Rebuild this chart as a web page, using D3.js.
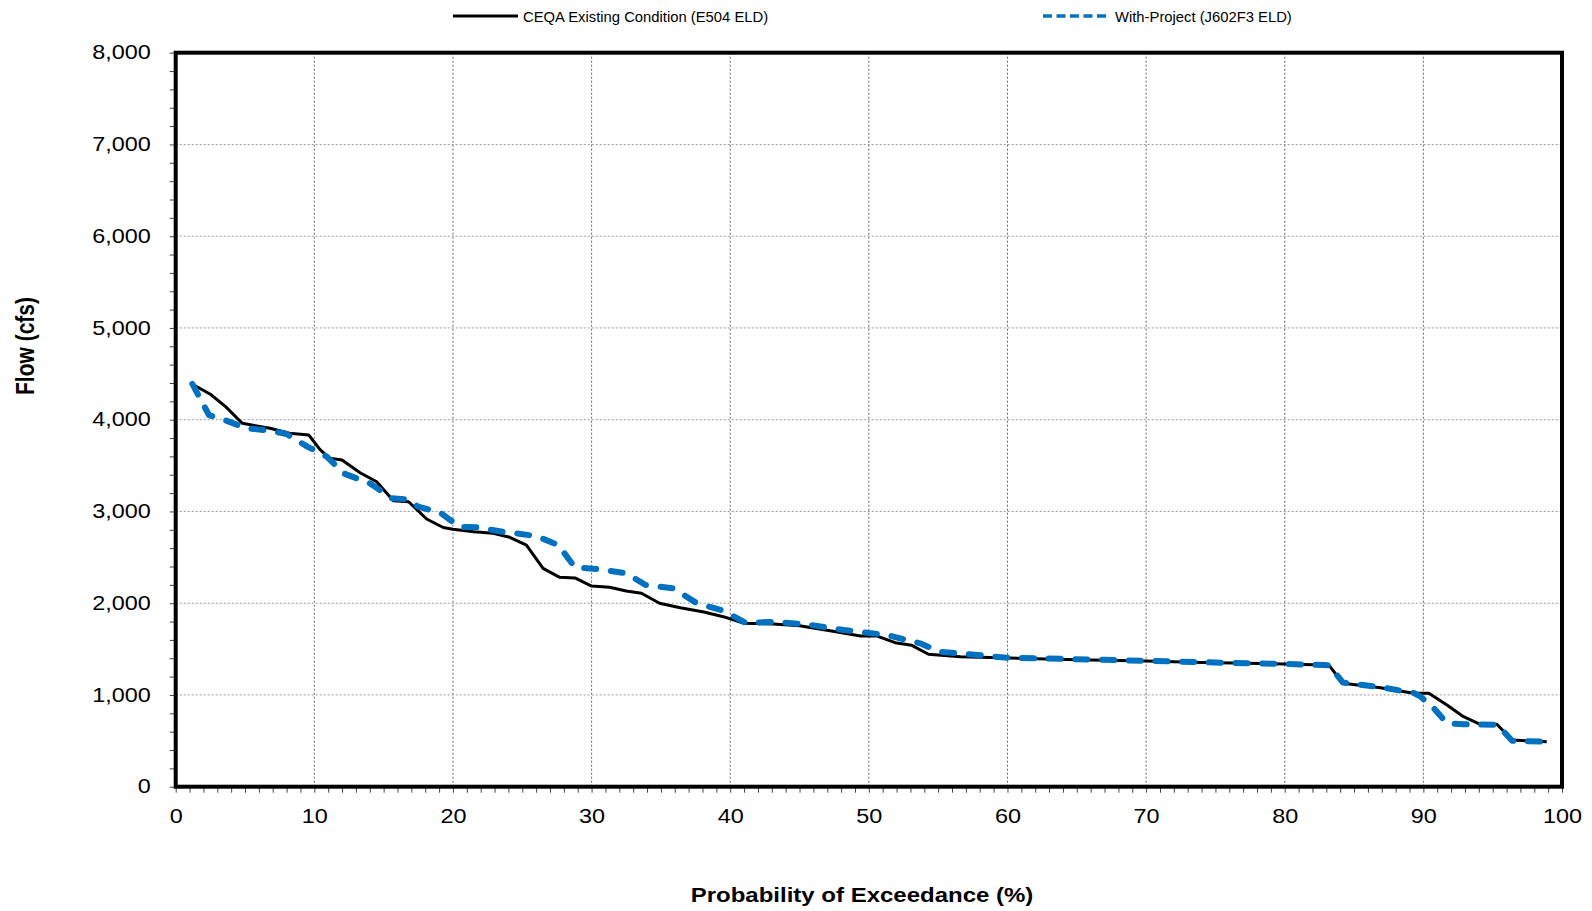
<!DOCTYPE html>
<html>
<head>
<meta charset="utf-8">
<script src="https://cdn.jsdelivr.net/npm/d3@7"></script>
<style>
  html, body { margin: 0; padding: 0; background: #fff; }
  svg { display: block; font-family: "Liberation Sans", Arial, sans-serif; }
</style>
</head>
<body>
<svg id="chart" width="1592" height="911"></svg>
<script>
// Exceedance curves: probability (%) and flow (cfs)
const existingPct = [1.4, 2.5, 3.6, 4.8, 6.8, 8.2, 9.6, 10.4, 11.1, 12.0, 13.3, 14.5, 15.7, 16.8, 18.1, 19.3, 20.0, 21.5, 22.9, 24.1, 25.3, 26.5, 27.7, 28.8, 30.0, 31.3, 32.5, 33.6, 34.9, 36.4, 38.1, 39.5, 41.0, 43.1, 45.0, 47.2, 49.4, 50.6, 51.9, 53.1, 54.3, 56.6, 59.5, 65.0, 70.0, 74.0, 77.3, 80.0, 82.8, 83.2, 84.2, 86.9, 89.3, 90.4, 91.7, 92.9, 94.1, 95.3, 96.4, 98.9];
const existingFlow = [4370, 4277, 4142, 3961, 3906, 3852, 3833, 3677, 3579, 3561, 3422, 3324, 3117, 3106, 2918, 2825, 2805, 2779, 2762, 2718, 2634, 2380, 2282, 2275, 2187, 2173, 2133, 2108, 1999, 1951, 1904, 1853, 1781, 1773, 1755, 1700, 1642, 1642, 1570, 1541, 1443, 1417, 1405, 1385, 1370, 1355, 1345, 1338, 1326, 1322, 1127, 1079, 1018, 1018, 891, 763, 680, 680, 509, 490];

const projectPct = [1.2, 2.4, 3.4, 5.1, 6.8, 8.0, 9.5, 10.9, 12.1, 14.0, 15.6, 16.7, 17.5, 19.1, 20.5, 21.7, 23.6, 26.0, 27.6, 28.8, 30.4, 32.5, 33.9, 35.9, 37.6, 39.5, 41.1, 43.1, 45.5, 48.2, 49.9, 51.3, 53.7, 55.1, 57.1, 60.0, 65.0, 70.0, 74.0, 77.3, 80.0, 82.8, 83.2, 84.2, 86.9, 89.3, 89.8, 90.7, 91.7, 92.9, 95.3, 95.8, 96.4, 98.9];
const projectFlow = [4390, 4051, 4004, 3906, 3880, 3844, 3706, 3597, 3416, 3307, 3143, 3132, 3052, 2985, 2830, 2827, 2779, 2732, 2634, 2391, 2373, 2326, 2198, 2162, 1999, 1918, 1787, 1795, 1770, 1708, 1678, 1653, 1563, 1471, 1446, 1405, 1390, 1372, 1357, 1345, 1338, 1326, 1322, 1135, 1085, 1022, 981, 865, 691, 680, 674, 600, 500, 490];

const xMajorTicks = [0, 10, 20, 30, 40, 50, 60, 70, 80, 90, 100];
const yMajorTicks = [0, 1000, 2000, 3000, 4000, 5000, 6000, 7000, 8000];

const seriesNames = ["CEQA Existing Condition (E504 ELD)", "With-Project (J602F3 ELD)"];
const xTitle = "Probability of Exceedance (%)";
const yTitle = "Flow (cfs)";

const svg = d3.select("#chart");
const plot = { left: 175.7, right: 1562, top: 52.7, bottom: 786.7 };
const STRETCH = 1.2;   // horizontal widening of the axis lettering

const x = d3.scaleLinear().domain([0, 100]).range([plot.left, plot.right]);
const y = d3.scaleLinear().domain([0, 8000]).range([plot.bottom, plot.top]);

// gridlines
const grid = svg.append("g");
grid.selectAll("line.v").data(xMajorTicks.slice(1, -1)).join("line")
  .attr("x1", d => x(d)).attr("x2", d => x(d))
  .attr("y1", plot.top).attr("y2", plot.bottom)
  .attr("stroke", "#666").attr("stroke-width", 1).attr("stroke-dasharray", "2,2");
grid.selectAll("line.h").data(yMajorTicks.slice(1, -1)).join("line")
  .attr("x1", plot.left).attr("x2", plot.right)
  .attr("y1", d => y(d)).attr("y2", d => y(d))
  .attr("stroke", "#999").attr("stroke-width", 1).attr("stroke-dasharray", "2,2");

// axes: minor ticks every 1 % / 200 cfs, labels on the major ones
const fmt = d3.format(",");
const xAxis = d3.axisBottom(x)
  .tickValues(d3.range(0, 101, 1))
  .tickSize(6).tickPadding(16)
  .tickFormat(d => d % 10 === 0 ? String(d) : "");
const yAxis = d3.axisLeft(y)
  .tickValues(d3.range(0, 8001, 200))
  .tickSize(6).tickPadding(19)
  .tickFormat(d => d % 1000 === 0 ? fmt(d) : "");

const gx = svg.append("g").attr("transform", `translate(0,${plot.bottom})`).call(xAxis);
const gy = svg.append("g").attr("transform", `translate(${plot.left},0)`).call(yAxis);
[gx, gy].forEach(g => {
  g.select(".domain").remove();
  g.selectAll(".tick line").attr("stroke", "#444").attr("stroke-width", 1);
  g.selectAll(".tick text")
    .attr("fill", "#000")
    .style("font-size", "19.5px");
});
gx.selectAll(".tick text").attr("transform", `scale(${STRETCH},1)`);
gy.selectAll(".tick text").attr("x", -25 / STRETCH).attr("transform", `scale(${STRETCH},1)`);

// curves
const line = d3.line().x(d => x(d[0])).y(d => y(d[1]));
const existing = existingPct.map((p, i) => [p, existingFlow[i]]);
const project = projectPct.map((p, i) => [p, projectFlow[i]]);

svg.append("path").datum(existing)
  .attr("d", line).attr("fill", "none")
  .attr("stroke", "#000").attr("stroke-width", 3).attr("stroke-linejoin", "round");
svg.append("path").datum(project)
  .attr("d", line).attr("fill", "none")
  .attr("stroke", "#0070C0").attr("stroke-width", 6)
  .attr("stroke-dasharray", "12,14.7").attr("stroke-linecap", "round")
  .attr("stroke-linejoin", "round");

// plot frame
svg.append("rect")
  .attr("x", plot.left).attr("y", plot.top)
  .attr("width", plot.right - plot.left).attr("height", plot.bottom - plot.top)
  .attr("fill", "none").attr("stroke", "#000").attr("stroke-width", 4);

// axis titles
svg.append("text")
  .attr("transform", `translate(862,902) scale(${STRETCH},1)`)
  .attr("text-anchor", "middle")
  .style("font-size", "20px").style("font-weight", "bold")
  .text(xTitle);
svg.append("text")
  .attr("transform", `translate(34,346) scale(${STRETCH},1) rotate(-90)`)
  .attr("text-anchor", "middle")
  .style("font-size", "21px").style("font-weight", "bold")
  .text(yTitle);

// legend
const legend = svg.append("g");
legend.append("line")
  .attr("x1", 453).attr("x2", 518).attr("y1", 16).attr("y2", 16)
  .attr("stroke", "#000").attr("stroke-width", 3);
legend.append("text").attr("x", 523).attr("y", 21.5)
  .style("font-size", "14.8px").text(seriesNames[0]);
legend.append("line")
  .attr("x1", 1043).attr("x2", 1110).attr("y1", 16).attr("y2", 16)
  .attr("stroke", "#0070C0").attr("stroke-width", 3.5).attr("stroke-dasharray", "9,4.5");
legend.append("text").attr("x", 1115).attr("y", 21.5)
  .style("font-size", "14.8px").text(seriesNames[1]);
</script>
</body>
</html>
